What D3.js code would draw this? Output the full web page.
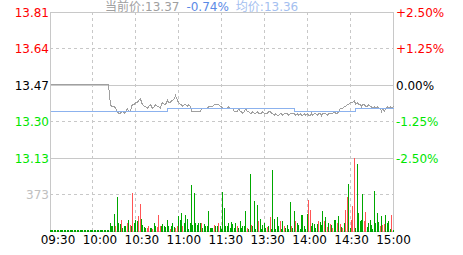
<!DOCTYPE html>
<html>
<head>
<meta charset="utf-8">
<script src="https://cdnjs.cloudflare.com/ajax/libs/d3/7.8.5/d3.min.js"></script>
<style>
body { margin: 0; background: #fff; }
svg { display: block; font-family: "DejaVu Sans", "Noto Sans CJK SC", sans-serif; font-size: 12px; }
</style>
</head>
<body>
<svg id="chart"></svg>
<script>
const width = 463;
const height = 255;
const plotLeft = 50, plotRight = 393, plotTop = 12, plotMid = 158, plotBottom = 231;

const prevClose = 13.47;
const lastPrice = 13.37;
const lastPct = "-0.74%";
const avgLast = 13.36;

// left / right axis of the price panel
const pctLevels = [2.5, 1.25, 0, -1.25, -2.5];
const priceLabels = ["13.81", "13.64", "13.47", "13.30", "13.13"];
const pctLabels = ["+2.50%", "+1.25%", "0.00%", "-1.25%", "-2.50%"];
const volMax = 746;
const volTicks = [373];
const timeLabels = ["09:30", "10:00", "10:30", "11:00", "11:30", "13:30", "14:00", "14:30", "15:00"];

// one price per trading minute, 0 = 09:30, 240 = 15:00
const prices = [
  13.47, 13.47, 13.47, 13.47, 13.47, 13.47, 13.47, 13.47, 13.47, 13.47,
  13.47, 13.47, 13.47, 13.47, 13.47, 13.47, 13.47, 13.47, 13.47, 13.47,
  13.47, 13.47, 13.47, 13.47, 13.47, 13.47, 13.47, 13.47, 13.47, 13.47,
  13.47, 13.47, 13.47, 13.47, 13.47, 13.47, 13.47, 13.47, 13.47, 13.47,
  13.47, 13.47, 13.38, 13.37, 13.37, 13.37, 13.36, 13.35, 13.34, 13.34,
  13.35, 13.35, 13.34, 13.35, 13.36, 13.35, 13.35, 13.37, 13.38, 13.38,
  13.39, 13.39, 13.40, 13.41, 13.39, 13.38, 13.37, 13.37, 13.36, 13.37,
  13.38, 13.37, 13.36, 13.37, 13.38, 13.37, 13.37, 13.36, 13.38, 13.39,
  13.38, 13.38, 13.40, 13.39, 13.39, 13.40, 13.40, 13.41, 13.42, 13.40,
  13.39, 13.38, 13.38, 13.37, 13.38, 13.38, 13.37, 13.38, 13.37, 13.35,
  13.35, 13.35, 13.35, 13.35, 13.35, 13.35, 13.36, 13.36, 13.36, 13.36,
  13.36, 13.37, 13.37, 13.37, 13.37, 13.38, 13.38, 13.38, 13.38, 13.37,
  13.37, 13.36, 13.36, 13.36, 13.36, 13.37, 13.36, 13.36, 13.36, 13.35,
  13.35, 13.35, 13.36, 13.35, 13.35, 13.34, 13.35, 13.36, 13.35, 13.35,
  13.34, 13.34, 13.35, 13.34, 13.34, 13.35, 13.34, 13.34, 13.34, 13.35,
  13.34, 13.34, 13.34, 13.35, 13.35, 13.34, 13.34, 13.33, 13.34, 13.33,
  13.33, 13.34, 13.34, 13.33, 13.34, 13.34, 13.34, 13.33, 13.34, 13.34,
  13.34, 13.34, 13.33, 13.34, 13.33, 13.34, 13.33, 13.33, 13.34, 13.33,
  13.34, 13.33, 13.33, 13.34, 13.33, 13.34, 13.34, 13.33, 13.34, 13.34,
  13.33, 13.34, 13.34, 13.34, 13.33, 13.34, 13.34, 13.34, 13.34, 13.35,
  13.34, 13.34, 13.35, 13.36, 13.36, 13.36, 13.37, 13.37, 13.38, 13.38,
  13.39, 13.39, 13.39, 13.40, 13.38, 13.39, 13.38, 13.38, 13.37, 13.38,
  13.38, 13.37, 13.37, 13.38, 13.37, 13.37, 13.36, 13.37, 13.36, 13.37,
  13.36, 13.36, 13.35, 13.36, 13.35, 13.36, 13.37, 13.36, 13.37, 13.36,
  13.37
];

// average price, as steps: [from minute, value]
const avgMinutes = [0, 82, 171, 214, 240];
const avgValues = [13.35, 13.36, 13.35, 13.36, 13.36];

// volume per minute (lots) and whether the minute closed up (1 = red)
const volumes = [
  0, 0, 0, 0, 0, 0, 0, 0, 0, 0,
  0, 0, 0, 0, 0, 0, 0, 0, 0, 0,
  0, 0, 0, 0, 0, 0, 0, 0, 0, 0,
  0, 0, 0, 0, 0, 0, 0, 0, 0, 0,
  0, 0, 80, 50, 50, 170, 50, 345, 80, 70,
  110, 30, 50, 50, 80, 110, 60, 45, 380, 80,
  110, 95, 150, 270, 120, 60, 35, 30, 25, 45,
  30, 25, 15, 80, 45, 35, 160, 50, 50, 70,
  45, 35, 110, 45, 15, 45, 80, 35, 25, 45,
  150, 110, 180, 50, 80, 160, 120, 15, 80, 465,
  60, 380, 80, 60, 80, 75, 80, 30, 70, 50,
  50, 200, 30, 30, 30, 60, 50, 45, 80, 50,
  15, 390, 230, 50, 45, 75, 25, 85, 70, 30,
  80, 45, 30, 100, 30, 45, 45, 200, 30, 20,
  575, 60, 45, 300, 20, 265, 100, 120, 20, 60,
  75, 30, 35, 50, 140, 20, 615, 120, 20, 140,
  50, 100, 20, 100, 45, 30, 60, 20, 290, 45,
  30, 200, 100, 80, 60, 20, 160, 160, 50, 20,
  170, 310, 210, 50, 75, 70, 30, 65, 100, 85,
  60, 200, 100, 140, 35, 80, 70, 60, 30, 110,
  110, 75, 150, 65, 35, 30, 80, 210, 340, 480,
  30, 110, 250, 750, 30, 680, 180, 100, 110, 370,
  100, 190, 35, 80, 110, 60, 20, 400, 80, 180,
  90, 50, 150, 60, 70, 160, 80, 100, 15, 160,
  10
];
const volUp = [
  0, 0, 0, 0, 0, 0, 0, 0, 0, 0,
  0, 0, 0, 0, 0, 0, 0, 0, 0, 0,
  0, 0, 0, 0, 0, 0, 0, 0, 0, 0,
  0, 0, 0, 0, 0, 0, 0, 0, 0, 0,
  0, 0, 0, 0, 0, 0, 1, 0, 0, 0,
  1, 0, 0, 0, 1, 0, 1, 0, 1, 0,
  0, 0, 1, 1, 0, 0, 0, 0, 1, 1,
  0, 0, 1, 0, 0, 1, 1, 1, 0, 0,
  0, 0, 0, 0, 1, 0, 0, 0, 1, 1,
  0, 0, 0, 1, 0, 0, 0, 0, 0, 0,
  0, 0, 0, 0, 0, 0, 1, 0, 0, 0,
  0, 0, 0, 0, 0, 1, 0, 0, 1, 0,
  0, 0, 0, 0, 0, 0, 0, 0, 0, 0,
  0, 1, 0, 0, 0, 0, 0, 0, 1, 0,
  0, 1, 0, 0, 0, 0, 1, 0, 0, 0,
  0, 0, 1, 0, 1, 0, 0, 0, 0, 0,
  0, 1, 0, 0, 1, 0, 0, 0, 0, 1,
  0, 0, 1, 0, 0, 0, 0, 0, 0, 0,
  0, 1, 1, 0, 0, 0, 0, 0, 1, 0,
  0, 0, 1, 0, 1, 0, 1, 0, 1, 0,
  0, 1, 0, 1, 0, 1, 0, 1, 1, 0,
  0, 1, 1, 1, 0, 0, 0, 0, 0, 0,
  1, 1, 0, 0, 0, 0, 0, 0, 0, 0,
  0, 1, 0, 1, 1, 0, 0, 0, 0, 1,
  0
];

const gridColor = "#c8c8c8";
const upColor = "#ff0000", downColor = "#00e600";

const svg = d3.select("#chart").attr("width", width).attr("height", height);

const x = d3.scaleLinear().domain([0, 240]).range([plotLeft, plotRight]);
const yPct = d3.scaleLinear().domain([-2.5, 2.5]).range([plotMid, plotTop]);
const yPrice = d3.scaleLinear().domain([prevClose * 0.975, prevClose * 1.025]).range([plotMid, plotTop]);
const yVol = d3.scaleLinear().domain([0, volMax]).range([plotBottom, plotMid]).clamp(true);
const xLabel = d3.scalePoint().domain(timeLabels).range([58, 393.5]);

const px = v => Math.floor(v) + 0.5;

// grid
const grid = svg.append("g").attr("shape-rendering", "crispEdges")
    .attr("stroke", gridColor).attr("fill", "none");

pctLevels.forEach(p => {
    grid.append("line")
        .attr("x1", plotLeft).attr("x2", plotRight + 1)
        .attr("y1", px(yPct(p))).attr("y2", px(yPct(p)))
        .attr("stroke-dasharray", Math.abs(p) == 1.25 ? "3,3" : null);
});
volTicks.forEach(v => {
    grid.append("line")
        .attr("x1", plotLeft).attr("x2", plotRight + 1)
        .attr("y1", px(yVol(v))).attr("y2", px(yVol(v)))
        .attr("stroke-dasharray", "3,3");
});
grid.append("line")
    .attr("x1", plotLeft).attr("x2", plotRight + 1)
    .attr("y1", px(plotBottom)).attr("y2", px(plotBottom));

d3.range(0, 241, 30).forEach(m => {
    const edge = m == 0 || m == 240;
    grid.append("line")
        .attr("x1", px(x(m))).attr("x2", px(x(m)))
        .attr("y1", plotTop).attr("y2", plotBottom + 1)
        .attr("stroke-dasharray", edge ? null : "3,3");
});

// volume bars
const bars = volumes.map((v, i) => ({ m: i, v: v, up: volUp[i] }));
svg.append("g").attr("shape-rendering", "crispEdges")
    .selectAll("rect")
    .data(bars)
    .join("rect")
    .attr("x", d => Math.floor(x(d.m)))
    .attr("width", 1)
    .attr("y", d => Math.min(Math.floor(yVol(d.v)), plotBottom - 1))
    .attr("height", d => plotBottom + 1 - Math.min(Math.floor(yVol(d.v)), plotBottom - 1))
    .attr("fill", d => d.up ? "#ff5555" : "#00a800");

// price and average lines
const priceLine = d3.line()
    .x((d, i) => px(x(i)))
    .y(d => px(yPrice(d)));

svg.append("path")
    .datum(prices)
    .attr("d", priceLine)
    .attr("fill", "none")
    .attr("stroke", "#a0a0a0")
    .attr("stroke-width", 1)
    .attr("shape-rendering", "crispEdges");

const avgPts = avgMinutes.map((m, i) => [m, avgValues[i]]);
svg.append("path")
    .datum(avgPts)
    .attr("d", d3.line()
        .x(d => px(x(d[0])))
        .y(d => px(yPrice(d[1])))
        .curve(d3.curveStepAfter))
    .attr("fill", "none")
    .attr("stroke", "#8cb2ee")
    .attr("stroke-width", 1)
    .attr("shape-rendering", "crispEdges");

// axis labels
const levelColor = p => p > 0 ? upColor : (p < 0 ? downColor : "#000");

svg.append("g").selectAll("text")
    .data(pctLevels)
    .join("text")
    .attr("x", plotLeft - 1)
    .attr("y", d => Math.floor(yPct(d)) + 4.5)
    .attr("text-anchor", "end")
    .attr("fill", levelColor)
    .text((d, i) => priceLabels[i]);

svg.append("g").selectAll("text")
    .data(pctLevels)
    .join("text")
    .attr("x", plotRight + 3)
    .attr("y", d => Math.floor(yPct(d)) + 4.5)
    .attr("fill", levelColor)
    .text((d, i) => pctLabels[i]);

svg.append("g").selectAll("text")
    .data(volTicks)
    .join("text")
    .attr("x", plotLeft - 1)
    .attr("y", d => Math.floor(yVol(d)) + 4.5)
    .attr("text-anchor", "end")
    .attr("fill", "#c0c0c0")
    .text(d => d);

svg.append("g").selectAll("text")
    .data(timeLabels)
    .join("text")
    .attr("x", d => xLabel(d))
    .attr("y", 243.5)
    .attr("text-anchor", "middle")
    .attr("fill", "#000")
    .text(d => d);

// header
const head = svg.append("text").attr("x", 105).attr("y", 10.5);
head.append("tspan").attr("fill", "#a0a0a0").text("当前价:" + lastPrice.toFixed(2));
head.append("tspan").attr("dx", 7).attr("fill", "#5a8ae6").text(lastPct);
head.append("tspan").attr("dx", 7).attr("fill", "#a4c0f0").text("均价:" + avgLast.toFixed(2));
</script>
</body>
</html>
